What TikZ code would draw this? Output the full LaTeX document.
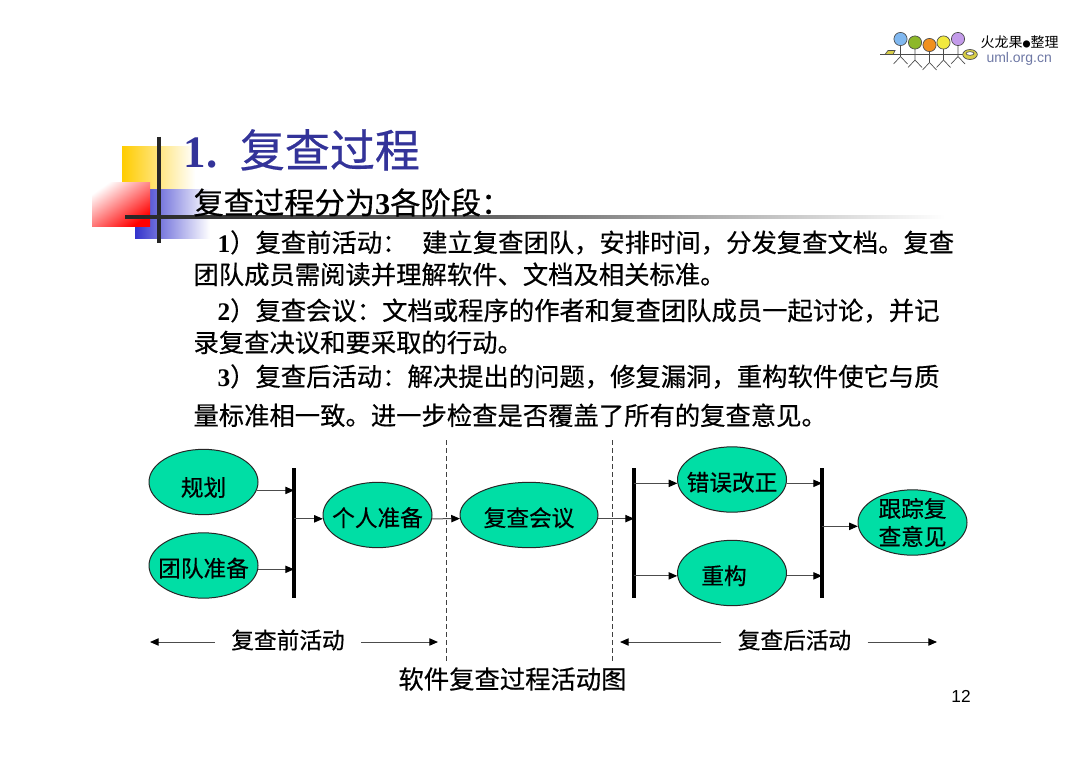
\documentclass[tikz,border=0pt]{standalone}
\usepackage{fontspec}
\setmainfont{Noto Sans CJK SC}[FakeBold=0.45]
\newfontfamily\logofont{Noto Sans CJK SC}
\newfontfamily\latinbf{Liberation Serif}
\newfontfamily\pagefont{Liberation Sans}
\usetikzlibrary{arrows.meta,shapes.geometric}
\newcommand{\digit}[1]{{\latinbf\bfseries #1}}
\newcommand{\slim}[1]{\makebox[0pt]{#1}}
\definecolor{stagegreen}{RGB}{0,222,165}
\definecolor{titleblue}{RGB}{51,51,153}
\definecolor{logoblue}{RGB}{110,120,165}
\definecolor{cornergold}{RGB}{255,204,0}
\definecolor{cornerblue}{RGB}{51,51,204}
\definecolor{headblue}{RGB}{128,184,240}
\definecolor{headgreen}{RGB}{141,184,42}
\definecolor{headorange}{RGB}{240,144,30}
\definecolor{headyellow}{RGB}{242,233,62}
\definecolor{headpurple}{RGB}{195,155,234}
\definecolor{bowl}{RGB}{215,205,70}
\tikzset{every picture/.style={line width=0.75pt}}
\tikzset{
	stage/.style={draw=black!85,fill=stagegreen,ellipse,inner sep=0pt,minimum width=81.75pt,minimum height=49pt,
		font=\fontsize{17}{21}\selectfont,text height=17pt,text depth=0pt},
	bodyline/.style={anchor=base west,inner sep=0pt,font=\fontsize{19}{23}\selectfont},
	activity/.style={inner ysep=0pt,inner xsep=12pt,font=\fontsize{17}{21}\selectfont,text height=10pt,text depth=0pt},
	flow/.style={draw=black!70,-{Triangle[length=6.5pt,width=5.5pt,color=black]}},
	span/.style={draw=black!70,-{Triangle[length=6.5pt,width=5.5pt,color=black]}},
	syncbar/.style={line width=2.4pt},
	phase/.style={dashed,dash pattern=on 4pt off 2pt,black!75,line width=0.6pt},
	person/.style={line width=0.5pt,black!70}
}

\begin{document}
\begin{tikzpicture}[x=0.75pt,y=0.75pt,yscale=-1,xscale=1]
	\path[use as bounding box,fill=white] (0,0) rectangle (1080,763);

	% Corner squares
	\shade[left color=cornergold,middle color=cornergold,right color=white] (122,147) rectangle (195,192);
	\shade[left color=cornerblue,middle color=cornerblue!75!white,right color=white] (135,189) rectangle (210,238);
	\shade[left color=white,right color=red,shading angle=35] (92,182) rectangle (150,226);
	% Title rules
	\draw[line width=2.6pt,black!85] (159,137) -- (159,243);
	\shade[left color=black!85,right color=black!60] (125,215.5) rectangle (500,218.5);
	\shade[left color=black!60,right color=white] (500,215.5) rectangle (945,218.5);

	% Logo
	\draw[person] (880,54.5) -- (966,54.5);
	\foreach \x/\y/\c in {900.5/39/headblue,915/42.5/headgreen,929.5/45/headorange,943.5/42.5/headyellow,958/39/headpurple}{
		\draw[person] (\x,\y) -- (\x,\y+17.5) -- (\x-7,\y+25);
		\draw[person] (\x,\y+17.5) -- (\x+7,\y+25);
		\draw[person,fill=\c] (\x,\y) circle (6.6);
	}
	\draw[person,fill=bowl] (885,54.5) -- (888,50.5) -- (895,50.5) -- (893,54.5) -- cycle;
	\draw[person,fill=bowl] (970,54.5) ellipse (7.3 and 5);
	\draw[person,fill=white] (970,53.5) ellipse (4 and 1.8);
	\node[anchor=west,inner sep=0pt,font=\logofont\fontsize{10.5}{12}\selectfont] (logotext) at (980,42) {火龙果{\fontsize{6}{6}\selectfont●}整理};
	\node[anchor=west,inner sep=0pt,text=logoblue,font=\pagefont\fontsize{10.5}{12}\selectfont] (logourl) at (986,59) {uml.org.cn};

	% Slide text
	\node[anchor=base west,inner sep=0pt,text=titleblue,font=\fontsize{33.75}{40}\selectfont] (title) at (183,167) {\digit{1.}\hspace{17pt}复查过程};
	\node[anchor=base west,inner sep=0pt,font=\fontsize{22.7}{27}\selectfont] (heading) at (193,214) {复查过程分为\digit{3}各阶段：};
	\node[bodyline] (lineA) at (217,252) {\digit{1}）复查前活动：\hspace{11pt}建立复查团队，安排时间，分发复查文档。复查};
	\node[bodyline] (lineB) at (193,284) {团队成员需阅读并理解软件、文档及相关标准。};
	\node[bodyline] (lineC) at (217,320) {\digit{2}）复查会议：文档或程序的作者和复查团队成员一起讨论，并记};
	\node[bodyline] (lineD) at (193,352) {录复查决议和要采取的行动。};
	\node[bodyline] (lineE) at (217,386) {\digit{3}）复查后活动：解决提出的问题，修复漏洞，重构软件使它与质};
	\node[bodyline] (lineF) at (193,425) {量标准相一致。进一步检查是否覆盖了所有的复查意见。};

	% Phase boundaries
	\coordinate (phaseAtop) at (446,440);
	\coordinate (phaseAend) at (446,663);
	\coordinate (phaseBtop) at (612,440);
	\coordinate (phaseBend) at (612,663);
	\draw[phase] (phaseAtop) -- (phaseAend);
	\draw[phase] (phaseBtop) -- (phaseBend);

	% Stages
	\node[stage,text height=21pt] (plan) at (203.5,482) {\slim{规划}};
	\node[stage] (team) at (203.5,565.5) {\slim{团队准备}};
	\node[stage] (solo) at (377.5,515) {\slim{个人准备}};
	\node[stage,minimum width=103.5pt] (meeting) at (529,515) {\slim{复查会议}};
	\node[stage] (fix) at (732,479.5) {\slim{错误改正}};
	\node[stage] (rework) at (732,573) {\slim{重构\hspace{12pt}}};
	\node[stage,text height=,text depth=,align=center,inner ysep=-6pt] (track) at (912.5,522.5) {\slim{跟踪复}\\\slim{查意见}};

	% Sync bars
	\coordinate (barAtop) at (294,468);
	\coordinate (barAend) at (294,598);
	\coordinate (barBtop) at (634,468);
	\coordinate (barBend) at (634,598);
	\coordinate (barCtop) at (822,468);
	\coordinate (barCend) at (822,598);
	\draw[syncbar] (barAtop) -- (barAend);
	\draw[syncbar] (barBtop) -- (barBend);
	\draw[syncbar] (barCtop) -- (barCend);

	% Flow
	\draw[flow] (plan.-9) -- (plan.-9 -| barAtop);
	\draw[flow] (team.-4) -- (team.-4 -| barAtop);
	\draw[flow] (barAtop |- solo.184) -- (solo.184);
	\draw[flow] (solo.-4) -- (meeting.183);
	\draw[flow] (meeting.-3) -- (meeting.-3 -| barBtop);
	\draw[flow] (barBtop |- fix.184) -- (fix.184);
	\draw[flow] (barBtop |- rework.183) -- (rework.183);
	\draw[flow] (fix.-4) -- (fix.-4 -| barCtop);
	\draw[flow] (rework.-3) -- (rework.-3 -| barCtop);
	\draw[flow] (barCtop |- track.184) -- (track.184);

	% Activity spans
	\node[activity] (before) at (288,642) {复查前活动};
	\node[activity] (after) at (794.5,642) {复查后活动};
	\coordinate (beforeL) at (150,642);
	\coordinate (beforeR) at (438,642);
	\coordinate (afterL) at (620,642);
	\coordinate (afterR) at (937,642);
	\draw[span] (before) -- (beforeL);
	\draw[span] (before) -- (beforeR);
	\draw[span] (after) -- (afterL);
	\draw[span] (after) -- (afterR);

	% Caption
	\node[inner sep=0pt,font=\fontsize{19}{23}\selectfont] (caption) at (512.5,679) {软件复查过程活动图};
	\node[inner sep=0pt,font=\pagefont\fontsize{13}{15}\selectfont] (pageno) at (961,696) {12};
\end{tikzpicture}
\end{document}
